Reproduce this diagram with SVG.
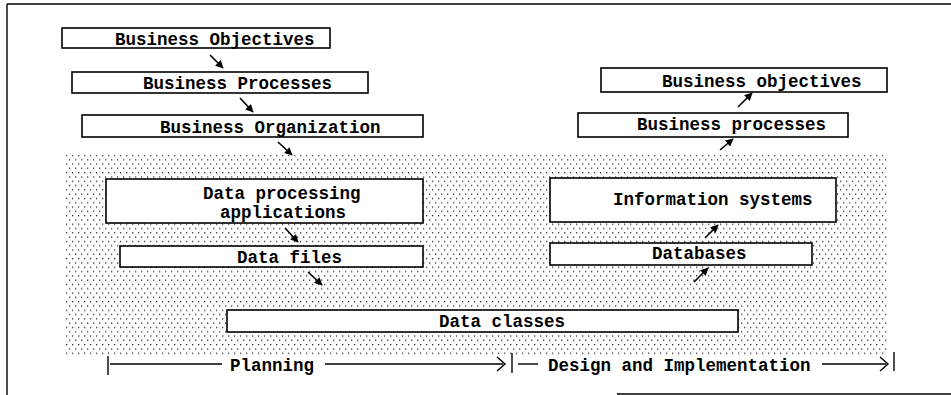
<svg xmlns="http://www.w3.org/2000/svg" width="951" height="395" viewBox="0 0 951 395">
  <defs>
    <pattern id="dots" width="6" height="8.6" patternUnits="userSpaceOnUse">
      <rect x="0" y="0" width="1.3" height="1.3" fill="#333"/>
      <rect x="3" y="4.3" width="1.3" height="1.3" fill="#333"/>
    </pattern>
    <marker id="ah" viewBox="0 0 10 10" refX="9" refY="5" markerWidth="5" markerHeight="5" orient="auto">
      <path d="M0,0 L10,5 L0,10 Z" fill="#000"/>
    </marker>
  </defs>
  <style>
    .box { fill: #fff; stroke: #000; stroke-width: 1.6; }
    .t { font-family: "Liberation Mono", "DejaVu Sans Mono", monospace; font-weight: bold; font-size: 17.5px; fill: #000; }
    .ln { stroke: #000; stroke-width: 1.4; fill: none; }
    .arr { stroke: #000; stroke-width: 1.6; fill: none; marker-end: url(#ah); }
  </style>
  <rect width="951" height="395" fill="#fff"/>
  <!-- frame -->
  <g id="frame">
    <line class="ln" x1="7" y1="4" x2="951" y2="4" stroke-width="2"/>
    <line class="ln" x1="7" y1="4" x2="7" y2="395" stroke-width="2.4"/>
    <line class="ln" x1="617" y1="394" x2="951" y2="394"/>
  </g>
  <!-- dotted area -->
  <rect x="65" y="155" width="822" height="200" fill="url(#dots)"/>

  <g id="n-bus-obj">
    <rect class="box" x="62" y="28" width="268" height="20"/>
    <text class="t" x="115" y="45">Business Objectives</text>
  </g>
  <g id="n-bus-proc">
    <rect class="box" x="72" y="72" width="296" height="21"/>
    <text class="t" x="143" y="89">Business Processes</text>
  </g>
  <g id="n-bus-org">
    <rect class="box" x="82" y="115" width="341" height="22"/>
    <text class="t" x="160" y="133">Business Organization</text>
  </g>
  <g id="n-dp-apps">
    <rect class="box" x="106" y="179" width="317" height="44"/>
    <text class="t" x="203" y="199">Data processing</text>
    <text class="t" x="220" y="218">applications</text>
  </g>
  <g id="n-data-files">
    <rect class="box" x="120" y="246" width="303" height="21"/>
    <text class="t" x="237" y="263">Data files</text>
  </g>
  <g id="n-data-classes">
    <rect class="box" x="227" y="310" width="511" height="22"/>
    <text class="t" x="439" y="327">Data classes</text>
  </g>
  <g id="n-bus-obj-r">
    <rect class="box" x="601" y="68" width="286" height="24"/>
    <text class="t" x="662" y="87">Business objectives</text>
  </g>
  <g id="n-bus-proc-r">
    <rect class="box" x="578" y="113" width="270" height="24"/>
    <text class="t" x="637" y="130">Business processes</text>
  </g>
  <g id="n-info-sys">
    <rect class="box" x="550" y="178" width="286" height="44"/>
    <text class="t" x="613" y="205">Information systems</text>
  </g>
  <g id="n-databases">
    <rect class="box" x="550" y="243" width="262" height="22"/>
    <text class="t" x="652" y="259">Databases</text>
  </g>

  <g id="connectors">
    <line class="arr" x1="210" y1="55" x2="223" y2="68"/>
    <line class="arr" x1="240" y1="98" x2="253" y2="112"/>
    <line class="arr" x1="278" y1="142" x2="292" y2="155"/>
    <line class="arr" x1="285" y1="228" x2="298" y2="242"/>
    <line class="arr" x1="308" y1="272" x2="322" y2="285"/>
    <line class="arr" x1="694" y1="282" x2="708" y2="268"/>
    <line class="arr" x1="705" y1="238" x2="718" y2="225"/>
    <line class="arr" x1="720" y1="150" x2="733" y2="139"/>
    <line class="arr" x1="738" y1="107" x2="752" y2="93"/>
  </g>

  <g id="timeline">
    <line class="ln" x1="108" y1="356" x2="108" y2="375" stroke-width="1.8"/>
    <line class="ln" x1="110" y1="364" x2="222" y2="364"/>
    <text class="t" x="230" y="371">Planning</text>
    <line class="ln" x1="325" y1="364" x2="503" y2="364"/>
    <path class="ln" d="M497,357 L505,364 L497,371" stroke-width="1.8"/>
    <line class="ln" x1="512" y1="353" x2="512" y2="373" stroke-width="1.8"/>
    <line class="ln" x1="518" y1="364" x2="538" y2="364"/>
    <text class="t" x="548" y="371">Design and Implementation</text>
    <line class="ln" x1="822" y1="364" x2="886" y2="364"/>
    <path class="ln" d="M880,357 L888,364 L880,371" stroke-width="1.8"/>
    <line class="ln" x1="894" y1="352" x2="894" y2="371" stroke-width="1.8"/>
  </g>
</svg>
